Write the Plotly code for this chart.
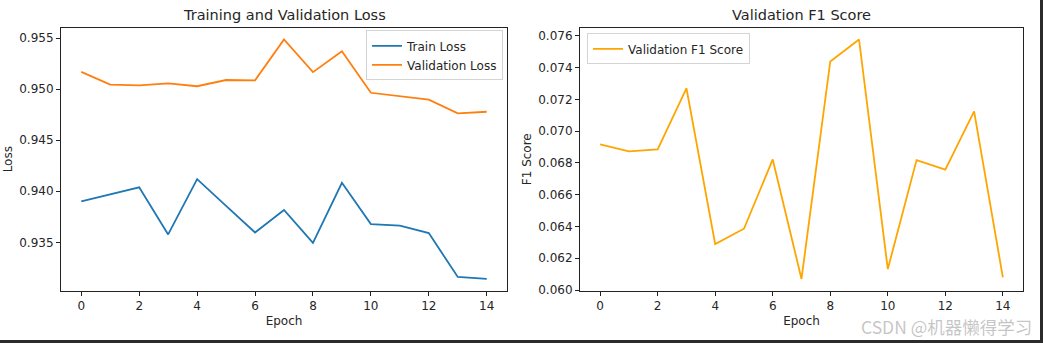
import plotly.graph_objects as go

# ---- data -------------------------------------------------------------
epochs = list(range(15))
train_loss = [0.93901, 0.93971, 0.94038, 0.93577, 0.94119, 0.93856, 0.93596,
              0.93817, 0.93494, 0.94083, 0.93679, 0.93663, 0.93590, 0.93160,
              0.93141]
val_loss = [0.95170, 0.95045, 0.95038, 0.95058, 0.95029, 0.95090, 0.95087,
            0.95487, 0.95167, 0.95372, 0.94965, 0.94929, 0.94897, 0.94763,
            0.94779]
val_f1 = [0.06917, 0.06873, 0.06886, 0.07270, 0.06289, 0.06386, 0.06822,
          0.06070, 0.07439, 0.07577, 0.06132, 0.06818, 0.06758, 0.07125,
          0.06080]

loss_ticks = [0.935, 0.940, 0.945, 0.950, 0.955]
f1_ticks = [0.060, 0.062, 0.064, 0.066, 0.068, 0.070, 0.072, 0.074, 0.076]
epoch_ticks = [0, 2, 4, 6, 8, 10, 12, 14]

# ---- layout helpers ---------------------------------------------------
W, H = 1043, 349
TXT = "#262626"
FONT = "DejaVu Sans"


def padded(vals, frac=0.05):
    lo, hi = min(vals), max(vals)
    pad = (hi - lo) * frac
    return [lo - pad, hi + pad]


def px_x(a, b):
    return [a / W, b / W]


def px_y(top, bottom):
    return [(H - bottom) / H, (H - top) / H]


axis_common = dict(
    showline=True, linecolor="#222222", linewidth=1, mirror=True,
    ticks="outside", ticklen=4, tickwidth=1, tickcolor="#222222",
    showgrid=False, zeroline=False,
    tickfont=dict(family=FONT, size=12, color=TXT),
    title_font=dict(family=FONT, size=12, color=TXT),
)

fig = go.Figure()

fig.add_trace(go.Scatter(x=epochs, y=train_loss, mode="lines", name="Train Loss",
                         line=dict(color="#1f77b4", width=1.8),
                         xaxis="x", yaxis="y", legend="legend"))
fig.add_trace(go.Scatter(x=epochs, y=val_loss, mode="lines", name="Validation Loss",
                         line=dict(color="#ff7f0e", width=1.8),
                         xaxis="x", yaxis="y", legend="legend"))
fig.add_trace(go.Scatter(x=epochs, y=val_f1, mode="lines", name="Validation F1 Score",
                         line=dict(color="#FFA500", width=1.8),
                         xaxis="x2", yaxis="y2", legend="legend2"))

x_range = padded(epochs)

fig.update_layout(
    width=W, height=H,
    margin=dict(l=0, r=0, t=0, b=0),
    paper_bgcolor="white", plot_bgcolor="white",
    font=dict(family=FONT, size=12, color=TXT),
    xaxis=dict(axis_common, domain=px_x(61, 507), range=x_range,
               tickvals=epoch_ticks, anchor="y",
               title=dict(text="Epoch", standoff=4)),
    yaxis=dict(axis_common, domain=px_y(28, 296), range=padded(train_loss + val_loss),
               tickvals=loss_ticks, tickformat=".3f", anchor="x",
               title=dict(text="Loss", standoff=4)),
    xaxis2=dict(axis_common, domain=px_x(580, 1023), range=x_range,
                tickvals=epoch_ticks, anchor="y2",
                title=dict(text="Epoch", standoff=4)),
    yaxis2=dict(axis_common, domain=px_y(28, 296), range=padded(val_f1),
                tickvals=f1_ticks, tickformat=".3f", anchor="x2",
                title=dict(text="F1 Score", standoff=4)),
    legend=dict(x=503 / W, xanchor="right", y=(H - 31) / H, yanchor="top",
                bgcolor="rgba(255,255,255,0.8)", bordercolor="#d4d4d4",
                borderwidth=1, font=dict(family=FONT, size=12, color=TXT),
                tracegroupgap=0),
    legend2=dict(x=587 / W, xanchor="left", y=(H - 34) / H, yanchor="top",
                 bgcolor="rgba(255,255,255,0.8)", bordercolor="#d4d4d4",
                 borderwidth=1, font=dict(family=FONT, size=12, color=TXT)),
    annotations=[
        dict(text="Training and Validation Loss", x=284 / W, y=(H - 15) / H,
             xref="paper", yref="paper", xanchor="center", yanchor="middle",
             showarrow=False, font=dict(family=FONT, size=14.5, color=TXT)),
        dict(text="Validation F1 Score", x=801 / W, y=(H - 15) / H,
             xref="paper", yref="paper", xanchor="center", yanchor="middle",
             showarrow=False, font=dict(family=FONT, size=14.5, color=TXT)),
        dict(text="CSDN @机器懒得学习", x=1034 / W, y=(H - 332) / H,
             xref="paper", yref="paper", xanchor="right", yanchor="middle",
             showarrow=False,
             font=dict(family="Noto Sans CJK SC", size=17.5,
                       color="rgba(140,140,140,0.5)")),
    ],
    shapes=[
        # dark frame strips along the right and bottom edges
        dict(type="rect", xref="paper", yref="paper", x0=1040 / W, x1=1,
             y0=0, y1=1, fillcolor="#2b2b2b", line=dict(width=0), layer="above"),
        dict(type="rect", xref="paper", yref="paper", x0=0, x1=1,
             y0=0, y1=3 / H, fillcolor="#2b2b2b", line=dict(width=0), layer="above"),
    ],
    showlegend=True,
)

fig.write_html("out.html")
